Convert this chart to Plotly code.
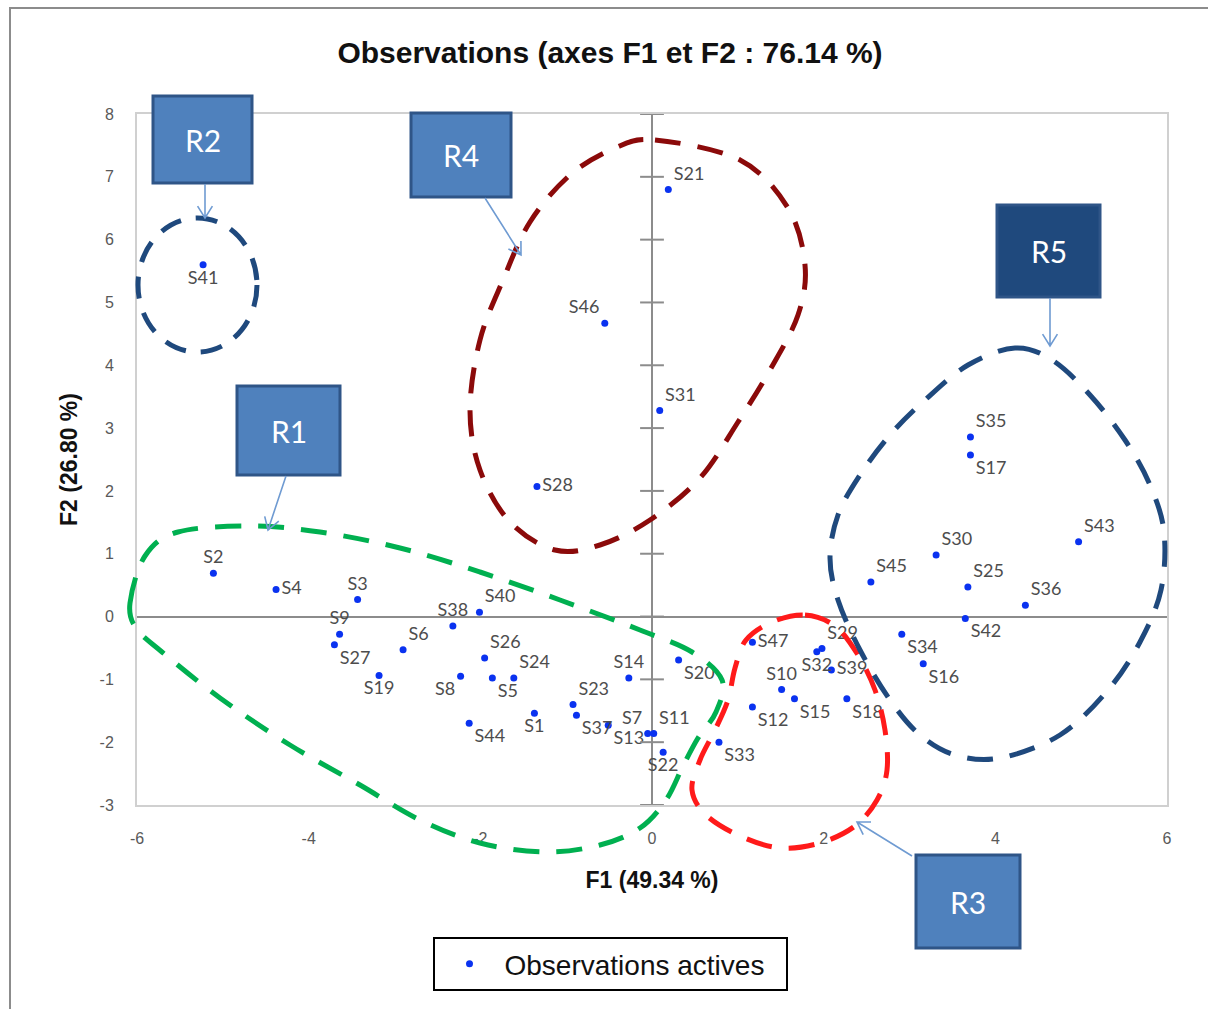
import plotly.graph_objects as go

# ---------------- data ----------------
labels = ["S1", "S2", "S3", "S4", "S5", "S6", "S7", "S8", "S9", "S10",
          "S11", "S12", "S13", "S14", "S15", "S16", "S17", "S18", "S19", "S20",
          "S21", "S22", "S23", "S24", "S25", "S26", "S27", "S28", "S29", "S30",
          "S31", "S32", "S33", "S34", "S35", "S36", "S37", "S38", "S39", "S40",
          "S41", "S42", "S43", "S44", "S45", "S46", "S47"]
f1 = [-1.37, -5.11, -3.43, -4.38, -1.86, -2.90, -0.05, -2.23, -3.64, 1.51,
      0.02, 1.17, -0.51, -0.27, 1.66, 3.16, 3.71, 2.27, -3.18, 0.31,
      0.19, 0.13, -0.92, -1.61, 3.68, -1.95, -3.70, -1.34, 1.98, 3.31,
      0.09, 1.92, 0.78, 2.91, 3.71, 4.35, -0.88, -2.32, 2.09, -2.01,
      -5.23, 3.65, 4.97, -2.13, 2.55, -0.55, 1.17]
f2 = [-1.54, 0.69, 0.27, 0.43, -0.98, -0.53, -1.86, -0.95, -0.28, -1.16,
      -1.86, -1.44, -1.73, -0.98, -1.31, -0.75, 2.57, -1.31, -0.94, -0.69,
      6.80, -2.16, -1.40, -0.98, 0.47, -0.66, -0.45, 2.07, -0.51, 0.98,
      3.28, -0.56, -2.00, -0.28, 2.86, 0.18, -1.57, -0.15, -0.85, 0.07,
      5.60, -0.03, 1.19, -1.70, 0.55, 4.67, -0.41]
x_ticks = [-6, -4, -2, 0, 2, 4, 6]
y_ticks = [-3, -2, -1, 0, 1, 2, 3, 4, 5, 6, 7, 8]
region_names = ["R1", "R2", "R3", "R4", "R5"]

# label placement (style)
label_pos = ["bottom center", "top center", "top center", "middle right", "bottom right",
             "top right", "top left", "bottom left", "top center", "top center",
             "top right", "bottom right", "bottom right", "top center", "bottom right",
             "bottom right", "bottom right", "bottom right", "bottom center", "bottom right",
             "top right", "bottom center", "top right", "top right", "top right",
             "top right", "bottom right", "middle right", "top right", "top right",
             "top right", "bottom center", "bottom right", "bottom right", "top right",
             "top right", "bottom right", "top center", "middle right", "top right",
             "bottom center", "bottom right", "top right", "bottom right", "top right",
             "top left", "middle right"]

# ---------------- geometry helpers (plot area in pixels) ----------------
W, H = 1208, 1009
L, R, T, B = 137, 1167, 114, 805


def px(x):
    return (x - L) / (R - L)


def py(y):
    return (B - y) / (B - T)


def smooth_path(pts):
    P = [(px(x), py(y)) for x, y in pts]
    n = len(P)
    d = "M {:.5f},{:.5f}".format(*P[0])
    for i in range(n):
        p0, p1, p2, p3 = P[i - 1], P[i], P[(i + 1) % n], P[(i + 2) % n]
        c1 = (p1[0] + (p2[0] - p0[0]) / 6, p1[1] + (p2[1] - p0[1]) / 6)
        c2 = (p2[0] - (p3[0] - p1[0]) / 6, p2[1] - (p3[1] - p1[1]) / 6)
        d += " C {:.5f},{:.5f} {:.5f},{:.5f} {:.5f},{:.5f}".format(*c1, *c2, *p2)
    return d + " Z"


def arrow_path(x0, y0, x1, y1, head=14):
    import math
    ang = math.atan2(y1 - y0, x1 - x0)
    pts = []
    for s in (1, -1):
        a = ang + math.pi + s * math.radians(32)
        pts.append((x1 + head * math.cos(a), y1 + head * math.sin(a)))
    d = "M {:.5f},{:.5f} L {:.5f},{:.5f}".format(px(x0), py(y0), px(x1), py(y1))
    d += " M {:.5f},{:.5f} L {:.5f},{:.5f} L {:.5f},{:.5f}".format(
        px(pts[0][0]), py(pts[0][1]), px(x1), py(y1), px(pts[1][0]), py(pts[1][1]))
    return d


fig = go.Figure()

fig.add_trace(go.Scatter(
    x=f1, y=f2, mode="markers+text", text=labels, textposition=label_pos,
    name="Observations actives\u00a0\u00a0",
    marker=dict(color="#0A32F0", size=7),
    textfont=dict(family="Lato, Open Sans, sans-serif", size=18, color="#4d4d4d"),
    cliponaxis=False,
))

# tick marks on the vertical axis line crossing at x = 0
fig.add_trace(go.Scatter(
    x=[0] * len(y_ticks), y=y_ticks, mode="markers", showlegend=False, hoverinfo="skip",
    marker=dict(symbol="line-ew", size=17, line=dict(color="#8C8C8C", width=2)),
    cliponaxis=False))

shapes = []
dash = "26px,17px"
# R1 green
r1 = [(130, 603), (145, 556), (178, 532), (250, 526), (320, 532), (400, 548), (480, 572),
      (560, 600), (640, 630), (692, 652), (722, 680), (716, 712), (698, 738), (683, 766),
      (666, 800), (640, 828), (600, 845), (545, 852), (480, 843), (420, 820), (360, 785),
      (290, 745), (220, 698), (162, 652), (136, 628)]
shapes.append(dict(type="path", xref="paper", yref="paper", path=smooth_path(r1),
                   line=dict(color="#00B050", width=5, dash=dash)))
# R4 dark red
r4 = [(655, 140), (740, 160), (788, 208), (805, 265), (798, 315), (770, 370), (738, 422),
      (700, 478), (650, 520), (600, 545), (555, 550), (510, 522), (480, 470), (470, 410),
      (480, 340), (503, 280), (530, 222), (570, 175), (615, 148)]
shapes.append(dict(type="path", xref="paper", yref="paper", path=smooth_path(r4),
                   line=dict(color="#8B0A0A", width=5, dash=dash)))
# R3 red
r3 = [(805, 615), (835, 626), (858, 655), (875, 690), (885, 730), (887, 770), (877, 800),
      (855, 826), (820, 843), (780, 848), (740, 836), (706, 815), (692, 790), (700, 760),
      (715, 730), (728, 700), (735, 668), (746, 640), (772, 622)]
shapes.append(dict(type="path", xref="paper", yref="paper", path=smooth_path(r3),
                   line=dict(color="#FF1A1A", width=5, dash=dash)))
# R5 dark blue
r5 = [(1015, 348), (1052, 360), (1090, 395), (1125, 440), (1150, 485), (1164, 532),
      (1161, 590), (1140, 642), (1108, 690), (1060, 735), (1000, 758), (955, 755),
      (920, 735), (890, 700), (860, 650), (838, 600), (830, 558), (838, 515), (860, 475),
      (890, 435), (925, 400), (968, 365)]
shapes.append(dict(type="path", xref="paper", yref="paper", path=smooth_path(r5),
                   line=dict(color="#1F497D", width=5, dash=dash)))
# R2 circle
shapes.append(dict(type="circle", xref="paper", yref="paper",
                   x0=px(138), x1=px(257), y0=py(352), y1=py(218),
                   line=dict(color="#1F497D", width=5, dash="22px,15px")))

# callout boxes
boxes = {"R1": (237, 386, 340, 475, "#4F81BD"),
         "R2": (153, 96, 252, 183, "#4F81BD"),
         "R3": (916, 855, 1020, 948, "#4F81BD"),
         "R4": (411, 113, 511, 197, "#4F81BD"),
         "R5": (997, 205, 1100, 297, "#1F497D")}
arrows = {"R1": (286, 476, 268, 530), "R2": (205, 184, 205, 218),
          "R3": (912, 856, 857, 822), "R4": (485, 198, 521, 255),
          "R5": (1050, 298, 1050, 346)}
annotations = []
for name in region_names:
    x0, y0, x1, y1, fill = boxes[name]
    shapes.append(dict(type="rect", xref="paper", yref="paper",
                       x0=px(x0), x1=px(x1), y0=py(y1), y1=py(y0),
                       fillcolor=fill, line=dict(color="#2F5587", width=3)))
    annotations.append(dict(xref="paper", yref="paper", x=px((x0 + x1) / 2), y=py((y0 + y1) / 2),
                            xanchor="center", yanchor="middle",
                            text=name, showarrow=False,
                            font=dict(family="Lato, Open Sans, sans-serif", size=30, color="white")))
    ax0, ay0, ax1, ay1 = arrows[name]
    shapes.append(dict(type="path", xref="paper", yref="paper", path=arrow_path(ax0, ay0, ax1, ay1),
                       line=dict(color="#6F9BD2", width=1.6)))

# outer frame (top and left edges visible)
shapes.append(dict(type="path", xref="paper", yref="paper",
                   path="M {:.5f},{:.5f} L {:.5f},{:.5f} L {:.5f},{:.5f}".format(
                       px(10), py(1015), px(10), py(8), px(1215), py(8)),
                   line=dict(color="#8C8C8C", width=2)))

axis_font = dict(family="Liberation Sans, Arial, sans-serif", size=16, color="#595959")
title_font = dict(family="Liberation Sans, Arial, sans-serif", size=23, color="#111111")

fig.update_layout(
    width=W, height=H,
    margin=dict(l=L, r=W - R, t=T, b=H - B),
    paper_bgcolor="white", plot_bgcolor="white",
    title=dict(text="<b>Observations (axes F1 et F2 : 76.14 %)</b>",
               x=610 / W, xanchor="center", y=1 - 52 / H, yanchor="middle",
               font=dict(family="Liberation Sans, Arial, sans-serif", size=30, color="#111111")),
    xaxis=dict(range=[-6, 6], tickvals=x_ticks, ticktext=[str(v) for v in x_ticks],
               showgrid=False,
               zeroline=True, zerolinecolor="#8C8C8C", zerolinewidth=2,
               showline=True, mirror=True, linecolor="#D0D0D0", linewidth=2,
               ticks="outside", ticklen=18, tickcolor="rgba(0,0,0,0)",
               tickfont=axis_font,
               title=dict(text="<b>F1 (49.34 %)</b>", standoff=26, font=title_font)),
    yaxis=dict(range=[-3, 8], tickvals=y_ticks, ticktext=[str(v) for v in y_ticks],
               showgrid=False,
               zeroline=True, zerolinecolor="#8C8C8C", zerolinewidth=2,
               showline=True, mirror=True, linecolor="#D0D0D0", linewidth=2,
               ticks="outside", ticklen=18, tickcolor="rgba(0,0,0,0)",
               tickfont=axis_font,
               title=dict(text="<b>F2 (26.80 %)</b>", standoff=16, font=title_font)),
    showlegend=True,
    legend=dict(x=px(610), xanchor="center", y=py(937), yanchor="top",
                bordercolor="black", borderwidth=2, bgcolor="white",
                itemwidth=60,
                font=dict(family="Liberation Sans, Arial, sans-serif",
                          size=28, color="#111111")),
    shapes=shapes,
    annotations=annotations,
)

fig.write_html("out.html", config={"displayModeBar": False},
               post_script="document.body.style.margin='0px';")
